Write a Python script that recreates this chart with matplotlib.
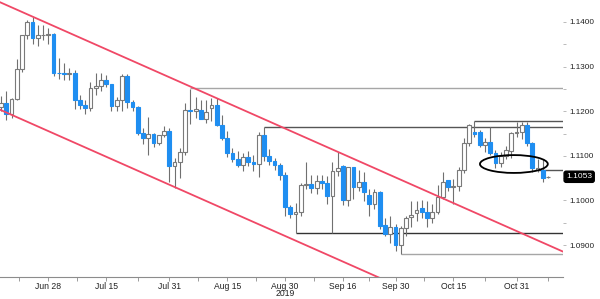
import matplotlib
matplotlib.use("Agg")
import matplotlib.pyplot as plt
from matplotlib.patches import Ellipse
import pandas as pd

# EUR/USD daily, 17 Jun - 8 Nov 2019
dates = pd.bdate_range("2019-06-17", "2019-11-08")
opens = [1.1209, 1.1219, 1.1194, 1.1228, 1.1294, 1.1370, 1.1400, 1.1365, 1.1370, 1.1371,
         1.1373, 1.1286, 1.1285, 1.1283, 1.1285, 1.1226, 1.1213, 1.1207, 1.1252, 1.1256,
         1.1271, 1.1260, 1.1212, 1.1225, 1.1280, 1.1220, 1.1209, 1.1152, 1.1140, 1.1148,
         1.1128, 1.1146, 1.1156, 1.1077, 1.1085, 1.1108, 1.1203, 1.1200, 1.1203, 1.1183,
         1.1207, 1.1215, 1.1170, 1.1140, 1.1107, 1.1092, 1.1080, 1.1098, 1.1086, 1.1082,
         1.1146, 1.1100, 1.1088, 1.1079, 1.1058, 1.0986, 1.0970, 1.0974, 1.1035, 1.1037,
         1.1027, 1.1044, 1.1040, 1.1011, 1.1065, 1.1077, 1.1001, 1.1074, 1.1030, 1.1042,
         1.1012, 1.0993, 1.1019, 1.0944, 1.0925, 1.0940, 1.0900, 1.0938, 1.0963, 1.0972,
         1.0983, 1.0974, 1.0961, 1.0974, 1.1007, 1.1045, 1.1030, 1.1032, 1.1069, 1.1128,
         1.1153, 1.1153, 1.1124, 1.1131, 1.1106, 1.1084, 1.1100, 1.1110, 1.1152, 1.1153,
         1.1170, 1.1128, 1.1068, 1.1068, 1.1052]
highs = [1.1234, 1.1246, 1.1229, 1.1318, 1.1370, 1.1404, 1.1412, 1.1393, 1.1393, 1.1387,
         1.1375, 1.1319, 1.1309, 1.1296, 1.1293, 1.1236, 1.1224, 1.1265, 1.1286, 1.1285,
         1.1282, 1.1262, 1.1232, 1.1283, 1.1283, 1.1226, 1.1211, 1.1162, 1.1187, 1.1151,
         1.1147, 1.1166, 1.1162, 1.1094, 1.1118, 1.1218, 1.1250, 1.1232, 1.1225, 1.1225,
         1.1230, 1.1230, 1.1192, 1.1156, 1.1117, 1.1110, 1.1106, 1.1110, 1.1102, 1.1153,
         1.1164, 1.1116, 1.1096, 1.1083, 1.1064, 1.0990, 1.0995, 1.1040, 1.1085, 1.1057,
         1.1057, 1.1056, 1.1055, 1.1087, 1.1109, 1.1080, 1.1075, 1.1076, 1.1068, 1.1063,
         1.1025, 1.1025, 1.1022, 1.0961, 1.0964, 1.0948, 1.0943, 1.0964, 1.0998, 1.0999,
         1.1000, 1.0998, 1.0991, 1.1034, 1.1063, 1.1046, 1.1047, 1.1075, 1.1140, 1.1172,
         1.1179, 1.1157, 1.1141, 1.1164, 1.1113, 1.1108, 1.1121, 1.1154, 1.1175, 1.1176,
         1.1175, 1.1130, 1.1092, 1.1093, 1.1055]
lows = [1.1200, 1.1181, 1.1184, 1.1224, 1.1288, 1.1361, 1.1351, 1.1347, 1.1359, 1.1350,
        1.1278, 1.1273, 1.1270, 1.1269, 1.1206, 1.1205, 1.1193, 1.1200, 1.1236, 1.1246,
        1.1255, 1.1200, 1.1200, 1.1200, 1.1207, 1.1200, 1.1147, 1.1127, 1.1101, 1.1120,
        1.1125, 1.1143, 1.1042, 1.1028, 1.1051, 1.1102, 1.1172, 1.1185, 1.1183, 1.1174,
        1.1179, 1.1166, 1.1136, 1.1098, 1.1087, 1.1075, 1.1066, 1.1077, 1.1065, 1.1052,
        1.1088, 1.1080, 1.1069, 1.1046, 1.0964, 1.0960, 1.0927, 1.0965, 1.1026, 1.1016,
        1.1015, 1.1025, 1.0993, 1.0926, 1.1055, 1.0990, 1.0987, 1.1003, 1.1020, 1.0999,
        1.0966, 1.0980, 1.0937, 1.0920, 1.0905, 1.0886, 1.0880, 1.0920, 1.0940, 1.0953,
        1.0960, 1.0940, 1.0950, 1.0970, 1.1003, 1.1020, 1.0991, 1.1021, 1.1062, 1.1121,
        1.1143, 1.1120, 1.1108, 1.1102, 1.1073, 1.1074, 1.1092, 1.1095, 1.1142, 1.1138,
        1.1123, 1.1064, 1.1063, 1.1041, 1.1051]
closes = [1.1219, 1.1194, 1.1228, 1.1294, 1.1370, 1.1400, 1.1365, 1.1370, 1.1371, 1.1373,
          1.1286, 1.1285, 1.1283, 1.1285, 1.1226, 1.1213, 1.1207, 1.1252, 1.1256, 1.1271,
          1.1260, 1.1212, 1.1225, 1.1280, 1.1220, 1.1209, 1.1152, 1.1140, 1.1148, 1.1128,
          1.1146, 1.1156, 1.1077, 1.1085, 1.1108, 1.1203, 1.1200, 1.1206, 1.1183, 1.1198,
          1.1215, 1.1170, 1.1140, 1.1107, 1.1092, 1.1080, 1.1098, 1.1086, 1.1082, 1.1146,
          1.1100, 1.1088, 1.1079, 1.1058, 1.0986, 1.0970, 1.0974, 1.1035, 1.1037, 1.1027,
          1.1044, 1.1040, 1.1011, 1.1065, 1.1073, 1.1001, 1.1074, 1.1030, 1.1042, 1.1018,
          1.0993, 1.1019, 1.0943, 1.0925, 1.0940, 1.0900, 1.0938, 1.0960, 1.0967, 1.0979,
          1.0974, 1.0961, 1.0974, 1.1007, 1.1041, 1.1030, 1.1032, 1.1069, 1.1128, 1.1170,
          1.1150, 1.1124, 1.1130, 1.1106, 1.1084, 1.1100, 1.1112, 1.1152, 1.1153, 1.1170,
          1.1128, 1.1073, 1.1072, 1.1051, 1.1053]

# support / resistance levels: (start date, price, colour)
levels = [("2019-08-06", 1.1252, "#a6a6a6"),
          ("2019-10-21", 1.1179, "#555555"),
          ("2019-08-26", 1.1164, "#555555"),
          ("2019-11-06", 1.1068, "#555555"),
          ("2019-09-03", 1.0927, "#333333"),
          ("2019-10-01", 1.0880, "#a6a6a6")]
# channel lines: two anchor points each (date, price)
channel_top = [("2019-06-25", 1.1412), ("2019-09-13", 1.1109)]
channel_bottom_anchor = ("2019-08-01", 1.1030)

tick_dates = ["2019-06-28", "2019-07-15", "2019-07-31", "2019-08-15", "2019-08-30",
              "2019-09-16", "2019-09-30", "2019-10-15", "2019-10-31"]
tick_labels = ["Jun 28", "Jul 15", "Jul 31", "Aug 15", "Aug 30",
               "Sep 16", "Sep 30", "Oct 15", "Oct 31"]
y_ticks = [1.09, 1.10, 1.11, 1.12, 1.13, 1.14]
last_price = 1.1053

pos = {d: i for i, d in enumerate(dates)}
def ix(d):
    return pos[pd.Timestamp(d)]

font = ["Liberation Sans", "DejaVu Sans"]
up_edge = "#7a7a7a"
down_col = "#1f8ef1"

fig = plt.figure(figsize=(6, 2.99), dpi=100)
ax = fig.add_axes([0, 0.0736, 0.938, 0.9264])
x = list(range(len(dates)))
xmin, xmax = -0.19, 106.8
ax.set_xlim(xmin, xmax)
ax.set_ylim(1.08283, 1.14493)

# wicks
ax.vlines(x, lows, highs, color="#707070", lw=0.8, zorder=3)
# bodies
bottoms = [min(o, c) for o, c in zip(opens, closes)]
heights = [max(abs(c - o), 0.00002) for o, c in zip(opens, closes)]
faces = ["white" if c >= o else down_col for o, c in zip(opens, closes)]
edges = [up_edge if c >= o else down_col for o, c in zip(opens, closes)]
ax.bar(x, heights, bottom=bottoms, width=0.72, color=faces, edgecolor=edges,
       linewidth=0.8, zorder=4)

# horizontal levels
for d, p, col in levels:
    ax.hlines(p, ix(d), xmax, color=col, lw=1.0, zorder=2)

# channel
(d0, p0), (d1, p1) = channel_top
i0, i1 = ix(d0), ix(d1)
slope = (p1 - p0) / (i1 - i0)
ax.plot([xmin, xmax], [p0 + slope * (xmin - i0), p0 + slope * (xmax - i0)],
        color="#f04866", lw=1.3, zorder=5)
bi, bp = ix(channel_bottom_anchor[0]), channel_bottom_anchor[1]
ax.plot([xmin, xmax], [bp + slope * (xmin - bi), bp + slope * (xmax - bi)],
        color="#f04866", lw=1.3, zorder=5)

# ellipse around the breakdown area
ax.add_patch(Ellipse((97.5, 1.10816), 12.9, 0.0040, fill=False, ec="black",
                     lw=1.3, zorder=6))

# axes styling
for s in ["top", "right", "left"]:
    ax.spines[s].set_visible(False)
ax.spines["bottom"].set_color("#8c8c8c")
ax.yaxis.tick_right()
ax.set_yticks(y_ticks)
ax.set_yticklabels(["%.4f" % v for v in y_ticks], fontsize=5.9, family=font, color="#222222")
ax.set_yticks([v + 0.005 for v in y_ticks[:-1]], minor=True)
ax.tick_params(axis="y", which="both", length=2, width=0.6, color="#b0b0b0", pad=3, direction="out")

tpos = [ix(d) for d in tick_dates]
ax.set_xticks(tpos)
ax.set_xticklabels(tick_labels, fontsize=6.2, family=font, color="#222222")
mids = [(a + b) / 2 for a, b in zip(tpos[:-1], tpos[1:])]
mids = [tpos[0] - (tpos[1] - tpos[0]) / 2] + mids + [tpos[-1] + (tpos[-1] - tpos[-2]) / 2]
ax.set_xticks(mids, minor=True)
ax.tick_params(axis="x", which="both", length=3, width=0.6, color="#8c8c8c", pad=0.5)
ax.text(ix("2019-08-30"), -0.045, "2019", transform=ax.get_xaxis_transform(),
        ha="center", va="top", fontsize=6.2, family=font, color="#222222")

# last price tag
ax.text(1.006, last_price, "%.4f" % last_price, transform=ax.get_yaxis_transform(),
        ha="left", va="center", fontsize=6.0, family=font, color="white",
        bbox=dict(boxstyle="round,pad=0.25", fc="black", ec="black"), clip_on=False)

fig.savefig("out.png", dpi=100)
